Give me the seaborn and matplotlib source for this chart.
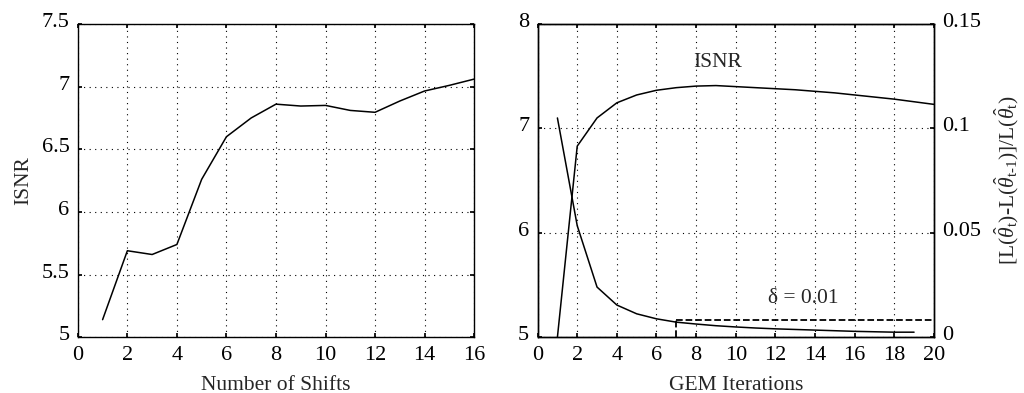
import matplotlib
matplotlib.use('Agg')
import matplotlib.pyplot as plt
import seaborn as sns
import pandas as pd
from matplotlib.ticker import FormatStrFormatter
from matplotlib.transforms import ScaledTranslation

# left panel: ISNR vs number of shifts
shifts = [1, 2, 3, 4, 5, 6, 7, 8, 9, 10, 11, 12, 13, 14, 15, 16]
isnr_shifts = [5.14, 5.69, 5.66, 5.74, 6.26, 6.60, 6.75, 6.86, 6.845, 6.85,
               6.81, 6.795, 6.885, 6.965, 7.01, 7.06]

# right panel: ISNR and relative change vs GEM iterations
iters = [1, 2, 3, 4, 5, 6, 7, 8, 9, 10, 11, 12, 13, 14, 15, 16, 17, 18, 19, 20]
isnr_iters = [5.0, 6.83, 7.10, 7.245, 7.32, 7.365, 7.39, 7.405, 7.41, 7.40,
              7.39, 7.38, 7.37, 7.355, 7.34, 7.32, 7.30, 7.28, 7.255, 7.23]
iters_rel = [1, 2, 3, 4, 5, 6, 7, 8, 9, 10, 11, 12, 13, 14, 15, 16, 17, 18, 19]
rel_change = [0.105, 0.0534, 0.024, 0.0154, 0.0112, 0.0088, 0.0072, 0.0063,
              0.0055, 0.0049, 0.0044, 0.0040, 0.0037, 0.0034, 0.0031,
              0.0028, 0.0026, 0.0024, 0.0024]
delta_iter = 7
delta_level = 0.008

sns.set_theme(style='ticks')
plt.rcParams['font.family'] = ['Liberation Serif', 'DejaVu Serif']
plt.rcParams['mathtext.fontset'] = 'custom'
plt.rcParams['mathtext.rm'] = 'Liberation Serif'
plt.rcParams['mathtext.it'] = 'Liberation Serif:italic'
plt.rcParams['xtick.direction'] = 'in'
plt.rcParams['ytick.direction'] = 'in'
plt.rcParams['xtick.major.size'] = 3
plt.rcParams['ytick.major.size'] = 3
plt.rcParams['axes.edgecolor'] = 'black'
plt.rcParams['axes.linewidth'] = 1.0

tfs = 16
lfs = 15.5
fig = plt.figure(figsize=(10.24, 3.93), dpi=100)
ax1 = fig.add_axes([0.076, 0.142, 0.387, 0.797])
ax2 = fig.add_axes([0.525, 0.142, 0.387, 0.797])

grid_kw = dict(color='black', linestyle=(0, (1, 4)), linewidth=0.8)

df1 = pd.DataFrame({'shifts': shifts, 'isnr': isnr_shifts})
sns.lineplot(data=df1, x='shifts', y='isnr', ax=ax1, color='black', linewidth=1.1)
ax1.set_xlim(0, 16)
ax1.set_ylim(5, 7.5)
ax1.set_xticks(range(0, 17, 2))
ax1.set_yticks([5, 5.5, 6, 6.5, 7, 7.5])
ax1.yaxis.set_major_formatter(FormatStrFormatter('%g'))
ax1.set_xlabel('Number of Shifts', fontsize=lfs, labelpad=8)
ax1.set_ylabel('ISNR', fontsize=lfs, labelpad=6)
ax1.grid(True, **grid_kw)
ax1.tick_params(labelsize=tfs, top=True, right=True, colors='black', pad=6)

df2 = pd.DataFrame({'iter': iters, 'isnr': isnr_iters})
sns.lineplot(data=df2, x='iter', y='isnr', ax=ax2, color='black', linewidth=1.1)
ax2.set_xlim(0, 20)
ax2.set_ylim(5, 8)
ax2.set_xticks(range(0, 21, 2))
ax2.set_yticks([5, 6, 7, 8])
ax2.set_xlabel('GEM Iterations', fontsize=lfs, labelpad=8)
ax2.set_ylabel('')
ax2.grid(True, **grid_kw)
ax2.tick_params(labelsize=tfs, top=True, colors='black', pad=6)
ax2.text(9.1, 7.63, 'ISNR', fontsize=lfs, ha='center', va='center')

ax3 = ax2.twinx()
df3 = pd.DataFrame({'iter': iters_rel, 'rel': rel_change})
sns.lineplot(data=df3, x='iter', y='rel', ax=ax3, color='black', linewidth=1.1)
ax3.plot([delta_iter, 20], [delta_level, delta_level], color='black',
         linestyle='--', linewidth=1.3)
ax3.plot([delta_iter, delta_iter], [0, delta_level], color='black',
         linestyle='--', linewidth=1.3)
ax3.set_ylim(0, 0.15)
ax3.set_yticks([0, 0.05, 0.1, 0.15])
ax3.yaxis.set_major_formatter(FormatStrFormatter('%g'))
ax3.set_xlim(0, 20)
ax3.set_ylabel(r'$[\mathrm{L}(\hat{\theta}_\mathrm{t})\text{-}\mathrm{L}(\hat{\theta}_{\mathrm{t}\text{-}\mathrm{1}})]'
               r'/\mathrm{L}(\hat{\theta}_\mathrm{t})$', fontsize=lfs, labelpad=8)
ax3.tick_params(labelsize=tfs, colors='black', pad=6)
ax3.text(13.4, 0.0187, '\u03b4 = 0.01', fontsize=lfs, ha='center', va='center')

# tick labels sit slightly above their ticks in the original
up = ScaledTranslation(0, 4 / 100, fig.dpi_scale_trans)
for ax in (ax1, ax2, ax3):
    for lab in ax.get_yticklabels():
        lab.set_transform(lab.get_transform() + up)

fig.savefig('out.png', dpi=100)
